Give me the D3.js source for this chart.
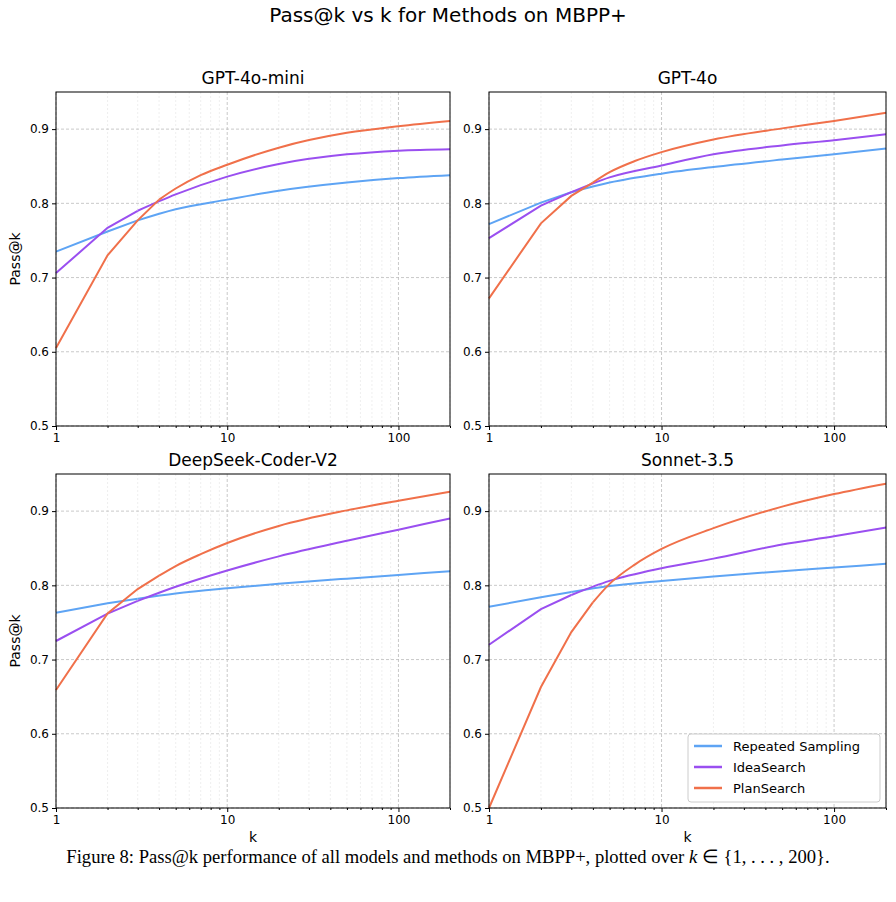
<!DOCTYPE html>
<html><head><meta charset="utf-8">
<script src="https://cdn.jsdelivr.net/npm/d3@7"></script>
<style>body{margin:0;background:#fff}svg{font-family:"DejaVu Sans",sans-serif}</style>
</head><body>
<svg id="c" width="896" height="902"></svg>
<script>
const panels = ["GPT-4o-mini","GPT-4o","DeepSeek-Coder-V2","Sonnet-3.5"];
const methods = ["Repeated Sampling","IdeaSearch","PlanSearch"];
const colors = ["#5ea4f4","#9a4ff0","#f0704a"];
const kShort = [1,2,3,5,10,20,50,100,200];
const kLong = [1,2,3,4,5,7,10,20,50,100,200];
const yTicks = [0.5,0.6,0.7,0.8,0.9];
const xTicks = [1,10,100];
const data = [
 [[.735,.762,.777,.792,.805,.817,.828,.834,.838],
  [.706,.767,.790,.812,.836,.853,.866,.871,.873],
  [.605,.730,.777,.805,.820,.838,.852,.875,.895,.904,.911]],
 [[.772,.801,.815,.828,.840,.849,.859,.866,.874],
  [.753,.797,.815,.835,.851,.866,.878,.885,.893],
  [.672,.773,.810,.828,.842,.857,.869,.886,.901,.911,.922]],
 [[.763,.776,.782,.789,.796,.802,.809,.814,.819],
  [.725,.762,.779,.798,.820,.839,.860,.875,.890],
  [.659,.762,.795,.813,.826,.842,.857,.880,.901,.914,.926]],
 [[.771,.784,.791,.799,.806,.812,.819,.824,.829],
  [.720,.768,.787,.806,.823,.836,.855,.866,.878],
  [.500,.663,.737,.777,.802,.828,.849,.877,.906,.923,.937]]
];
const svg = d3.select("#c");
svg.append("text").attr("x",448).attr("y",22).attr("text-anchor","middle").attr("font-size",20).text("Pass@k vs k for Methods on MBPP+");
const boxes = [[56,92],[489,92],[56,474],[489,474]];
const H=334;
panels.forEach((p,i)=>{
  const [x0,y0]=boxes[i];
  const w = i%2? 397:394;
  const x=d3.scaleLog().domain([1,200]).range([x0,x0+w]);
  const y=d3.scaleLinear().domain([0.5,0.95]).range([y0+H,y0]);
  const g=svg.append("g");
  const minor=[];for(let d=1;d<=100;d*=10)for(let m=2;m<=9;m++){if(d*m<=200)minor.push(d*m);}
  g.selectAll(".mg").data(minor).join("line").attr("x1",d=>x(d)).attr("x2",d=>x(d)).attr("y1",y0).attr("y2",y0+H)
    .attr("stroke","#e4e4e4").attr("stroke-width",0.6).attr("stroke-dasharray","2,2");
  g.selectAll(".xg").data(xTicks).join("line").attr("x1",d=>x(d)).attr("x2",d=>x(d)).attr("y1",y0).attr("y2",y0+H)
    .attr("stroke","#bbb").attr("stroke-width",0.8).attr("stroke-dasharray","3,2");
  g.selectAll(".yg").data(yTicks).join("line").attr("x1",x0).attr("x2",x0+w).attr("y1",d=>y(d)).attr("y2",d=>y(d))
    .attr("stroke","#bbb").attr("stroke-width",0.8).attr("stroke-dasharray","3,2");
  const line=d3.line().x(d=>x(d[0])).y(d=>y(d[1])).curve(d3.curveMonotoneX);
  const lineLin=d3.line().x(d=>x(d[0])).y(d=>y(d[1]));
  methods.forEach((m,j)=>{
    const ks = j==2? kLong:kShort;
    const pts = ks.map((k,t)=>[k,data[i][j][t]]);
    // straight segments for k<=4, smooth beyond
    const cut = j==2?4:3;
    g.append("path").datum(pts.filter(d=>d[0]<=cut)).attr("d",lineLin).attr("fill","none")
     .attr("stroke",colors[j]).attr("stroke-width",2);
    g.append("path").datum(pts.filter(d=>d[0]>=cut)).attr("d",line).attr("fill","none")
     .attr("stroke",colors[j]).attr("stroke-width",2);
  });
  g.append("rect").attr("x",x0).attr("y",y0).attr("width",w).attr("height",H).attr("fill","none").attr("stroke","#000").attr("stroke-width",1);
  const ax=g.append("g").attr("transform",`translate(0,${y0+H})`).call(d3.axisBottom(x).tickValues(xTicks).tickFormat(d3.format("d")).tickSize(4));
  ax.select(".domain").remove();
  ax.selectAll("text").attr("font-size",12).attr("font-family","DejaVu Sans").attr("fill","#000");
  g.append("g").attr("transform",`translate(0,${y0+H})`).call(d3.axisBottom(x).tickValues(minor).tickFormat("").tickSize(2)).select(".domain").remove();
  const ay=g.append("g").attr("transform",`translate(${x0},0)`).call(d3.axisLeft(y).tickValues(yTicks).tickFormat(d3.format(".1f")).tickSize(4));
  ay.select(".domain").remove();
  ay.selectAll("text").attr("font-size",12).attr("font-family","DejaVu Sans").attr("fill","#000");
  g.append("text").attr("x",x0+w/2).attr("y",y0-8).attr("text-anchor","middle").attr("font-size",17).text(p);
  if(i%2==0) g.append("text").attr("transform",`translate(20,${y0+H/2}) rotate(-90)`).attr("text-anchor","middle").attr("font-size",14).text("Pass@k");
  if(i>=2) g.append("text").attr("x",x0+w/2).attr("y",y0+H+34).attr("text-anchor","middle").attr("font-size",14).text("k");
  if(i==3){
    const lg=g.append("g");
    lg.append("rect").attr("x",688).attr("y",734).attr("width",192).attr("height",68).attr("rx",3).attr("fill","#fff").attr("stroke","#ccc");
    methods.forEach((m,j)=>{
      const yy=746+j*21;
      lg.append("line").attr("x1",694).attr("x2",722).attr("y1",yy).attr("y2",yy).attr("stroke",colors[j]).attr("stroke-width",2.5);
      lg.append("text").attr("x",733).attr("y",yy+5).attr("font-size",13).text(m);
    });
  }
});
const cap=svg.append("text").attr("x",448).attr("y",863).attr("text-anchor","middle").attr("font-family","Liberation Serif").attr("font-size",18.6);
cap.append("tspan").text("Figure 8: Pass@k performance of all models and methods on MBPP+, plotted over ");
cap.append("tspan").attr("font-style","italic").text("k");
cap.append("tspan").text(" ∈ {1, . . . , 200}.");
</script>
</body></html>
